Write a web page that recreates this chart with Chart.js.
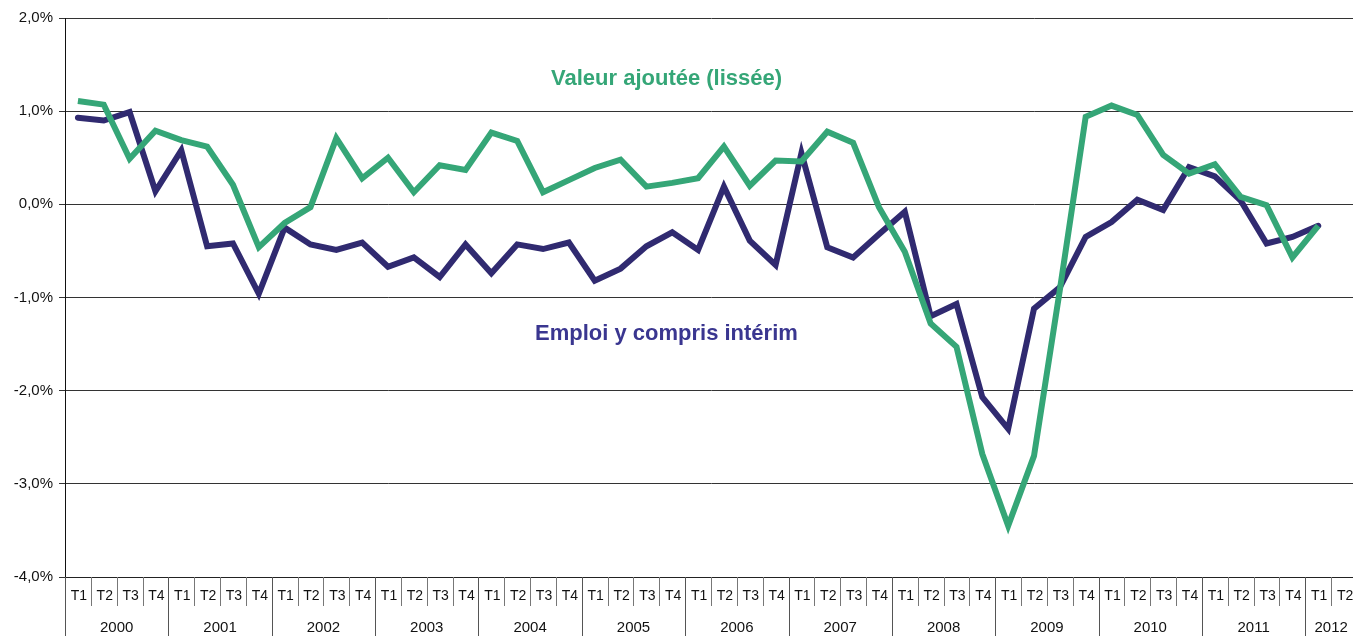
<!DOCTYPE html>
<html>
<head>
<meta charset="utf-8">
<script src="https://cdn.jsdelivr.net/npm/chart.js@4"></script>
<style>
html,body{margin:0;padding:0;background:#fff;overflow:hidden;}
canvas{display:block;}
</style>
</head>
<body>
<canvas id="c" width="1357" height="636"></canvas>
<script>
const years = ['2000','2001','2002','2003','2004','2005','2006','2007','2008','2009','2010','2011','2012'];
const quarters = ['T1','T2','T3','T4'];
const categories = [];
years.forEach(y => quarters.forEach(q => { if (!(y === '2012' && (q === 'T3' || q === 'T4'))) categories.push(y + ' ' + q); }));

const valeurAjoutee = [1.11,1.07,0.49,0.79,0.69,0.62,0.21,-0.46,-0.20,-0.03,0.71,0.28,0.50,0.13,0.42,0.37,
  0.77,0.68,0.13,0.26,0.39,0.48,0.19,0.23,0.28,0.62,0.20,0.47,0.46,0.78,0.66,-0.03,
  -0.51,-1.28,-1.53,-2.68,-3.45,-2.70,-0.92,0.94,1.06,0.96,0.53,0.33,0.43,0.08,-0.01,-0.57,-0.23,null];
const emploi = [0.93,0.90,0.99,0.14,0.58,-0.45,-0.42,-0.96,-0.25,-0.43,-0.49,-0.41,-0.67,-0.57,-0.78,-0.43,
  -0.74,-0.43,-0.48,-0.41,-0.82,-0.69,-0.45,-0.30,-0.49,0.19,-0.39,-0.65,0.55,-0.46,-0.57,-0.32,
  -0.08,-1.20,-1.07,-2.07,-2.41,-1.12,-0.89,-0.35,-0.19,0.05,-0.06,0.40,0.30,0.04,-0.42,-0.35,-0.23,null];
const yTicks = [2,1,0,-1,-2,-3,-4];
const seriesNames = ['Valeur ajoutée (lissée)','Emploi y compris intérim'];

const GREEN = '#35a677';
const NAVY = '#302a70';
const FONT = '"Liberation Sans", Arial, Helvetica, sans-serif';

const axisPlugin = {
  id: 'twoRowAxis',
  afterDraw(chart) {
    const ctx = chart.ctx;
    const xs = chart.scales.x;
    const area = chart.chartArea;
    const n = categories.length;
    const w = (xs.getPixelForValue(1) - xs.getPixelForValue(0));
    const bottom = area.bottom;
    ctx.save();
    ctx.strokeStyle = '#222';
    ctx.lineWidth = 1;
    ctx.beginPath();
    ctx.moveTo(area.left, bottom + 0.5);
    ctx.lineTo(chart.width, bottom + 0.5);
    ctx.stroke();
    ctx.font = '14px ' + FONT;
    ctx.fillStyle = '#111';
    ctx.textAlign = 'center';
    ctx.textBaseline = 'middle';
    for (let i = 0; i < n; i++) {
      const cx = xs.getPixelForValue(i);
      const left = Math.round(cx - w / 2) + 0.5;
      const q = categories[i].split(' ')[1];
      const isYearStart = q === 'T1';
      ctx.strokeStyle = isYearStart ? '#555' : '#777';
      ctx.beginPath();
      ctx.moveTo(left, bottom);
      ctx.lineTo(left, isYearStart ? chart.height : bottom + 29);
      ctx.stroke();
      ctx.fillText(q, cx + 1, bottom + 19);
    }
    ctx.font = '15px ' + FONT;
    years.forEach(y => {
      const idx = categories.map((c, i) => c.startsWith(y + ' ') ? i : -1).filter(i => i >= 0);
      const a = xs.getPixelForValue(idx[0]) - w / 2;
      const b = xs.getPixelForValue(idx[idx.length - 1]) + w / 2;
      ctx.fillText(y, (a + b) / 2, bottom + 51);
    });
    ctx.font = 'bold 22px ' + FONT;
    ctx.fillStyle = GREEN;
    ctx.textAlign = 'left';
    ctx.fillText(seriesNames[0], 551, 79);
    ctx.fillStyle = '#3a3690';
    ctx.fillText(seriesNames[1], 535, 334);
    ctx.restore();
  }
};

new Chart(document.getElementById('c'), {
  type: 'line',
  data: {
    labels: categories,
    datasets: [
      { label: seriesNames[0], data: valeurAjoutee, borderColor: GREEN, borderWidth: 6, pointRadius: 0, tension: 0, fill: false, borderJoinStyle: 'miter', spanGaps: false },
      { label: seriesNames[1], data: emploi, borderColor: NAVY, borderWidth: 6, pointRadius: 0, tension: 0, fill: false, borderJoinStyle: 'miter', borderCapStyle: 'round', spanGaps: false }
    ]
  },
  options: {
    responsive: false,
    animation: false,
    devicePixelRatio: 1,
    layout: { padding: { top: 18, bottom: 59, left: 0, right: 0 } },
    plugins: { legend: { display: false }, tooltip: { enabled: false } },
    scales: {
      x: {
        type: 'category',
        offset: true,
        display: false,
        grid: { display: false }
      },
      y: {
        min: -4, max: 2,
        afterFit(scale) { scale.width = 65; },
        afterBuildTicks(scale) { scale.ticks = yTicks.map(v => ({ value: v })); },
        ticks: {
          padding: 6,
          color: '#111',
          font: { family: FONT, size: 15 },
          callback: v => v.toFixed(1).replace('.', ',') + '%'
        },
        grid: { color: '#333', lineWidth: 1, tickLength: 6, drawTicks: true },
        border: { display: true, color: '#111', width: 1 }
      }
    }
  },
  plugins: [axisPlugin]
});
</script>
</body>
</html>
